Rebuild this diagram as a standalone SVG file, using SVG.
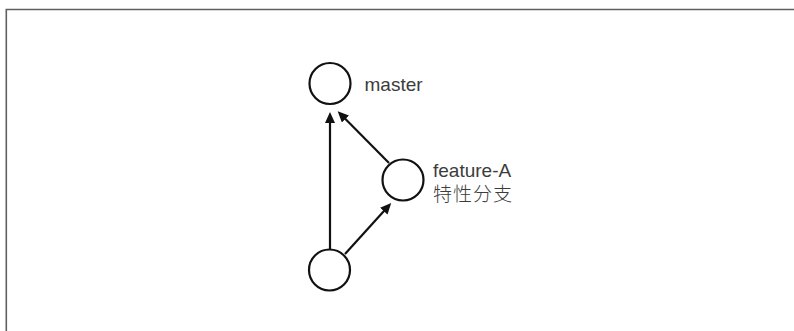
<svg xmlns="http://www.w3.org/2000/svg" width="794" height="331" viewBox="0 0 794 331">
  <defs>
    <marker id="arrow" markerUnits="userSpaceOnUse" markerWidth="11" markerHeight="10" refX="7" refY="5" orient="auto" viewBox="0 0 11 10">
      <path d="M0,0 L11,5 L0,10 z" fill="#111"/>
    </marker>
    <style>
      .node { fill: #fff; stroke: #111; stroke-width: 2.2; }
      .edge { fill: none; stroke: #111; stroke-width: 2.2; marker-end: url(#arrow); }
      .lbl { font-family: "Liberation Sans", Arial, sans-serif; font-size: 19px; fill: #3c3c3c; }
      .cjk { font-family: "Noto Sans CJK SC", "Noto Sans CJK TC", sans-serif; font-size: 19px; fill: #3c3c3c; letter-spacing: 1px; font-weight: 300; }
      .frame { fill: none; stroke: #5f5f5f; stroke-width: 1.6; }
    </style>
  </defs>
  <rect width="794" height="331" fill="#fff"/>
  <path class="frame" d="M6.3,331 L6.3,9.5 L794,9.5"/>

  <g id="connectors">
    <path class="edge" d="M330,249 L330,116"/>
    <path class="edge" d="M345,254 L388.5,206"/>
    <path class="edge" d="M389,163 L340.5,114"/>
  </g>

  <g id="master">
    <circle class="node" cx="330" cy="83.5" r="20.5"/>
    <text class="lbl" x="364.5" y="90.5">master</text>
  </g>

  <g id="feature-A">
    <circle class="node" cx="403" cy="180" r="20.5"/>
    <text class="lbl" x="433" y="177">feature-A</text>
    <text class="cjk" x="433" y="201">特性分支</text>
  </g>

  <g id="base">
    <circle class="node" cx="329.5" cy="270" r="20.5"/>
  </g>
</svg>
